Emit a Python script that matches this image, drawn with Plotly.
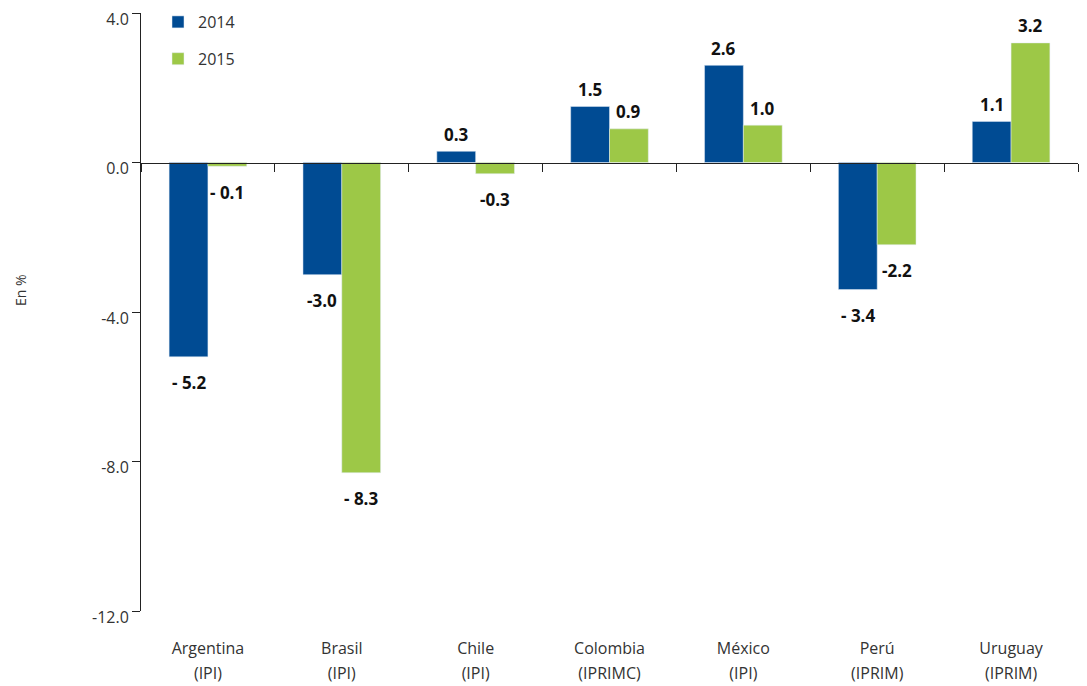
import plotly.graph_objects as go

# ---- data ----
countries = ["Argentina", "Brasil", "Chile", "Colombia", "México", "Perú", "Uruguay"]
indices = ["(IPI)", "(IPI)", "(IPI)", "(IPRIMC)", "(IPI)", "(IPRIM)", "(IPRIM)"]
values_2014 = [-5.2, -3.0, 0.3, 1.5, 2.6, -3.4, 1.1]
values_2015 = [-0.1, -8.3, -0.3, 0.9, 1.0, -2.2, 3.2]
labels_2014 = ["- 5.2", "-3.0", "0.3", "1.5", "2.6", "- 3.4", "1.1"]
labels_2015 = ["- 0.1", "- 8.3", "-0.3", "0.9", "1.0", "-2.2", "3.2"]
y_ticks = [4.0, 0.0, -4.0, -8.0, -12.0]
y_tick_text = ["4.0", "0.0", "-4.0", "-8.0", "-12.0"]

# ---- style ----
BLUE = "#004B93"
GREEN = "#9DC847"
FONT = "Open Sans"
PAGE_PAD = 8  # default body margin of the html page
W, H = 1087 - PAGE_PAD, 686 - PAGE_PAD
L, R, T, B = 141 - PAGE_PAD, 9, 13 - PAGE_PAD, 75
BARGAP = 0.42
y_min, y_max = -12, 4

plot_w = W - L - R
plot_h = H - T - B
bar_px = plot_w / len(countries) * (1 - BARGAP) / 2
n = len(countries)
positions = list(range(n))
boundaries = [i - 0.5 for i in range(n + 1)]

fig = go.Figure()
fig.add_trace(go.Bar(name="2014", x=countries, y=values_2014, marker_color=BLUE,
                     legendgroup="a", hoverinfo="skip"))
fig.add_trace(go.Bar(name="2015", x=countries, y=values_2015, marker_color=GREEN,
                     legendgroup="b", hoverinfo="skip"))
# invisible helpers so the overlay axes (zero line with boundary ticks, index labels) are drawn
for ax in ("x2", "x3"):
    fig.add_trace(go.Scatter(x=positions, y=[0] * n, xaxis=ax, mode="markers",
                             marker=dict(opacity=0), showlegend=False, hoverinfo="skip"))

annotations = []
for series, labels, sign in ((values_2014, labels_2014, -1), (values_2015, labels_2015, 1)):
    for c, v, t in zip(countries, series, labels):
        annotations.append(dict(
            x=c, y=v, xref="x", yref="y", text=t, showarrow=False,
            xshift=sign * bar_px / 2, yshift=17 if v >= 0 else -26,
            font=dict(family=FONT, size=17, color="#111111", weight="bold"),
        ))

annotations.append(dict(
    x=-(L + PAGE_PAD - 20) / plot_w, y=(611 - 290) / plot_h, xref="paper", yref="paper",
    xanchor="center", yanchor="middle", text="En %",
    textangle=-90, showarrow=False, font=dict(family=FONT, size=14, color="#333333"),
))

fig.update_layout(
    width=W, height=H,
    margin=dict(l=L, r=R, t=T, b=B, autoexpand=False),
    paper_bgcolor="white", plot_bgcolor="white",
    barmode="group", bargap=BARGAP, bargroupgap=0,
    font=dict(family=FONT, size=15, color="#333333"),
    showlegend=True,
    legend=dict(x=(158 - L - PAGE_PAD) / plot_w, y=1 + 8 / plot_h, xanchor="left", yanchor="top",
                traceorder="grouped", tracegroupgap=13,
                font=dict(family=FONT, size=16, color="#333333"),
                bgcolor="rgba(0,0,0,0)"),
    annotations=annotations,
    xaxis=dict(type="category", categoryarray=countries, range=[-0.5, n - 0.5],
               showline=False, ticks="", showgrid=False, zeroline=False, automargin=False,
               tickvals=countries, ticktext=countries, ticklabelstandoff=26,
               tickfont=dict(family=FONT, size=16, color="#333333")),
    xaxis2=dict(overlaying="x", anchor="free", position=(0 - y_min) / (y_max - y_min),
                type="linear", range=[-0.5, n - 0.5], showline=True, linecolor="#222222",
                linewidth=1, ticks="outside", ticklen=8, tickcolor="#222222",
                tickvals=boundaries, showticklabels=False, showgrid=False,
                zeroline=False, automargin=False),
    xaxis3=dict(overlaying="x", anchor="free", position=0, type="linear",
                range=[-0.5, n - 0.5], showline=False, ticks="",
                tickvals=positions, ticktext=indices, ticklabelstandoff=51,
                showgrid=False, zeroline=False, automargin=False,
                tickfont=dict(family=FONT, size=16, color="#333333")),
    yaxis=dict(range=[y_min, y_max], tickvals=y_ticks, ticktext=y_tick_text,
               showline=True, linecolor="#222222", linewidth=1,
               ticks="outside", ticklen=8, tickcolor="#222222",
               showgrid=False, zeroline=False, automargin=False,
               ticklabeloverflow="allow", ticklabelshift=6,
               tickfont=dict(family=FONT, size=16, color="#333333")),
)

fig.write_html("out.html")
